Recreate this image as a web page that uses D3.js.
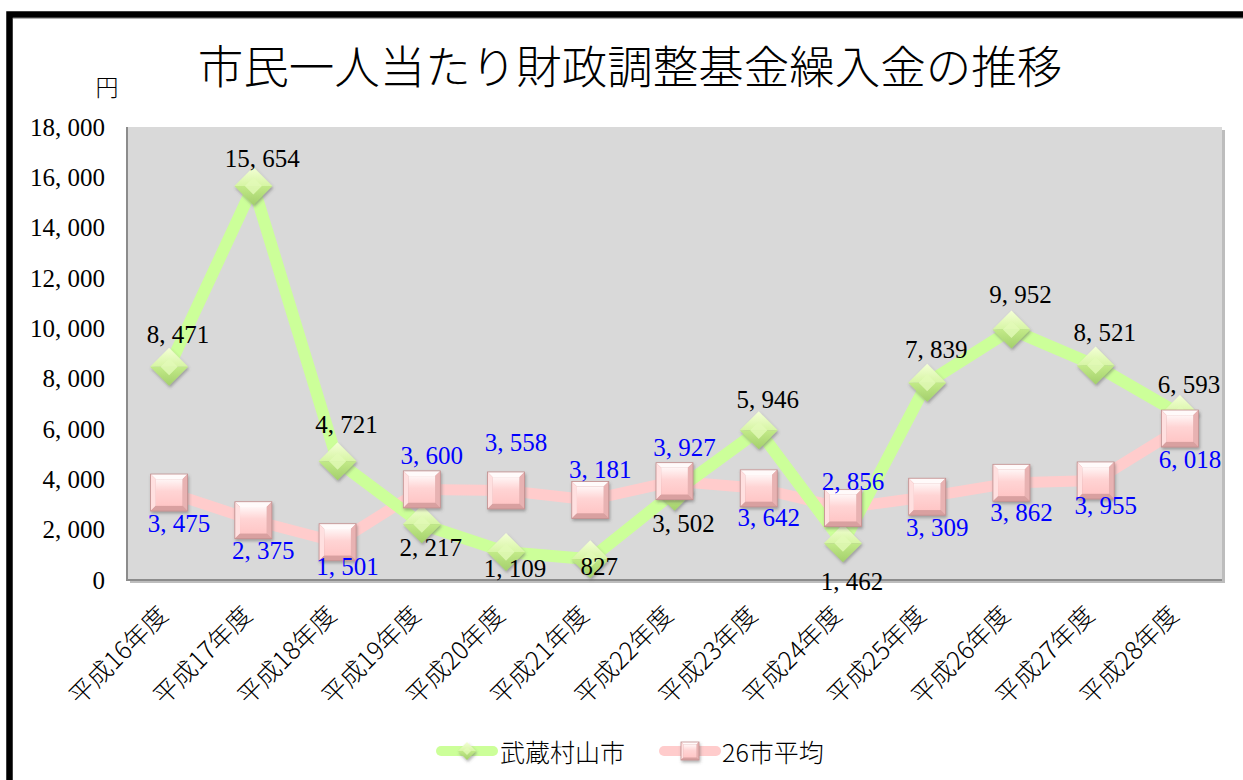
<!DOCTYPE html>
<html>
<head>
<meta charset="utf-8">
<title>市民一人当たり財政調整基金繰入金の推移</title>
<script src="https://cdn.jsdelivr.net/npm/d3@7/dist/d3.min.js"></script>
<style>
  body { margin: 0; background: #fff; }
  svg { display: block; }
</style>
</head>
<body>
<svg width="1243" height="780"></svg>
<script>
// data
const years = ["平成16年度","平成17年度","平成18年度","平成19年度","平成20年度","平成21年度","平成22年度",
               "平成23年度","平成24年度","平成25年度","平成26年度","平成27年度","平成28年度"];
const musashimurayama = [8471, 15654, 4721, 2217, 1109, 827, 3502, 5946, 1462, 7839, 9952, 8521, 6593];
const avg26 = [3475, 2375, 1501, 3600, 3558, 3181, 3927, 3642, 2856, 3309, 3862, 3955, 6018];
const yTicks = [0, 2000, 4000, 6000, 8000, 10000, 12000, 14000, 16000, 18000];
const seriesNames = ["武蔵村山市", "26市平均"];

// label offsets (px, from marker centre) - layout only
const greenDy = [-32, -28, -37, 23, 16, 7, 32, -31, 38, -33, -35, -33, -30];
const pinkDy  = [31, 30, 24, -34, -48, -30, -34, 29, -27, 31, 30, 25, 31];

const fmt = v => d3.format(",")(v).replace(",", ", ");
const serif = "'Liberation Serif', 'DejaVu Serif', serif";
const jp = "'Noto Sans CJK JP', sans-serif";

const svg = d3.select("svg");
const plot = {left: 127, right: 1222, top: 127, bottom: 580};

const x = d3.scalePoint().domain(years).range([plot.left, plot.right]).padding(0.5);
const y = d3.scaleLinear().domain([0, 18000]).range([plot.bottom, plot.top]);

const defs = svg.append("defs");
const sh = defs.append("filter").attr("id", "shadow").attr("x", "-50%").attr("y", "-50%").attr("width", "200%").attr("height", "200%");
sh.append("feDropShadow").attr("dx", 1).attr("dy", 2).attr("stdDeviation", 1.5)
  .attr("flood-color", "#555").attr("flood-opacity", 0.45);

function grad(id, stops, x2, y2) {
  const g = defs.append("linearGradient").attr("id", id)
    .attr("x1", 0).attr("y1", 0).attr("x2", x2).attr("y2", y2);
  stops.forEach(s => g.append("stop").attr("offset", s[0]).attr("stop-color", s[1]));
}
grad("dTop", [[0, "#f4ffd6"], [1, "#d6f5a4"]], 0, 1);
grad("dBot", [[0, "#c2ea88"], [1, "#a3cf6b"]], 0, 1);
grad("sFace", [[0, "#fff6f6"], [0.45, "#ffd4d4"], [1, "#ffc6c6"]], 0, 1);

// frame
svg.append("rect").attr("x", 9.5).attr("y", 14.5).attr("width", 1400).attr("height", 1000)
  .attr("fill", "none").attr("stroke", "#000").attr("stroke-width", 6.5);
svg.append("line").attr("x1", 13).attr("x2", 1243).attr("y1", 18.5).attr("y2", 18.5)
  .attr("stroke", "#b0b0b0").attr("stroke-width", 1);

// title
svg.append("text").attr("x", 630).attr("y", 64).attr("text-anchor", "middle")
  .attr("dominant-baseline", "central").attr("font-family", jp).attr("font-size", 45.5)
  .attr("font-weight", 300)
  .text("市民一人当たり財政調整基金繰入金の推移");

// unit
svg.append("text").attr("x", 107).attr("y", 86).attr("text-anchor", "middle")
  .attr("dominant-baseline", "central").attr("font-family", jp).attr("font-size", 23)
  .attr("font-weight", 300)
  .text("円");

// plot area
svg.append("rect").attr("x", plot.left + 3).attr("y", plot.top + 3)
  .attr("width", plot.right - plot.left).attr("height", plot.bottom - plot.top)
  .attr("fill", "#bdbdbd");
svg.append("rect").attr("x", plot.left).attr("y", plot.top)
  .attr("width", plot.right - plot.left).attr("height", plot.bottom - plot.top)
  .attr("fill", "#d9d9d9");
svg.append("path")
  .attr("d", `M${plot.left},${plot.top}V${plot.bottom}H${plot.right}`)
  .attr("fill", "none").attr("stroke", "#8c8c8c").attr("stroke-width", 2);

// y axis labels
const yAxis = svg.append("g").attr("transform", `translate(${plot.left},0)`)
  .call(d3.axisLeft(y).tickValues(yTicks).tickSize(0).tickPadding(22).tickFormat(fmt));
yAxis.select(".domain").remove();
yAxis.selectAll("text").attr("font-family", serif).attr("font-size", 25).attr("fill", "#000");

// x axis labels
const xAxis = svg.append("g").attr("transform", `translate(0,${plot.bottom})`)
  .call(d3.axisBottom(x).tickSize(0).tickPadding(0));
xAxis.select(".domain").remove();
xAxis.selectAll("text")
  .attr("font-family", jp).attr("font-size", 25).attr("font-weight", 300).attr("fill", "#000")
  .attr("text-anchor", "end").attr("dominant-baseline", "central")
  .attr("dy", null).attr("y", 0)
  .attr("transform", "translate(-8,29) rotate(-45)");

// lines
const line = d3.line().x((d, i) => x(years[i])).y(d => y(d));
svg.append("path").datum(avg26).attr("d", line).attr("fill", "none")
  .attr("stroke", "#ffcccc").attr("stroke-width", 11).attr("stroke-linejoin", "round");
svg.append("path").datum(musashimurayama).attr("d", line).attr("fill", "none")
  .attr("stroke", "#ccff99").attr("stroke-width", 12).attr("stroke-linejoin", "round");

function diamond(g, r) {
  g.attr("filter", "url(#shadow)");
  g.append("path").attr("d", `M${-r},0L0,${-r}L${r},0Z`).attr("fill", "url(#dTop)");
  g.append("path").attr("d", `M${-r},0L${r},0L0,${r}Z`).attr("fill", "url(#dBot)");
  const k = r * 0.45;
  g.append("path").attr("d", `M${-k},0L0,${-k}L${k},0L0,${k}Z`).attr("fill", "#e2fab8").attr("opacity", 0.8);
}
function square(g, r) {
  const b = r * 0.28;
  g.attr("filter", "url(#shadow)");
  g.append("rect").attr("x", -r).attr("y", -r).attr("width", 2 * r).attr("height", 2 * r).attr("fill", "#d9a3a3");
  g.append("path").attr("d", `M${-r},${-r}H${r}L${r - b},${-r + b}H${-r + b}Z`).attr("fill", "#fffafa");
  g.append("path").attr("d", `M${-r},${-r}L${-r + b},${-r + b}V${r - b}L${-r},${r}Z`).attr("fill", "#ffe0e0");
  g.append("path").attr("d", `M${r},${-r}L${r - b},${-r + b}V${r - b}L${r},${r}Z`).attr("fill", "#e8b2b2");
  g.append("path").attr("d", `M${-r},${r}L${-r + b},${r - b}H${r - b}L${r},${r}Z`).attr("fill", "#d9a0a0");
  g.append("rect").attr("x", -r + b).attr("y", -r + b).attr("width", 2 * (r - b)).attr("height", 2 * (r - b))
    .attr("fill", "url(#sFace)");
  g.append("rect").attr("x", -r).attr("y", -r).attr("width", 2 * r).attr("height", 2 * r)
    .attr("fill", "none").attr("stroke", "#c29090").attr("stroke-width", 0.8);
}

// markers
svg.append("g").selectAll("g").data(musashimurayama).join("g")
  .attr("transform", (d, i) => `translate(${x(years[i])},${y(d)})`)
  .each(function () { diamond(d3.select(this), 19); });
svg.append("g").selectAll("g").data(avg26).join("g")
  .attr("transform", (d, i) => `translate(${x(years[i])},${y(d)})`)
  .each(function () { square(d3.select(this), 18.5); });

// value labels
svg.append("g").selectAll("text").data(musashimurayama).join("text")
  .attr("x", (d, i) => x(years[i]) + 9).attr("y", (d, i) => y(d) + greenDy[i])
  .attr("text-anchor", "middle").attr("dominant-baseline", "central")
  .attr("font-family", serif).attr("font-size", 25).attr("fill", "#000")
  .text(fmt);
svg.append("g").selectAll("text").data(avg26).join("text")
  .attr("x", (d, i) => x(years[i]) + 10).attr("y", (d, i) => y(d) + pinkDy[i])
  .attr("text-anchor", "middle").attr("dominant-baseline", "central")
  .attr("font-family", serif).attr("font-size", 25).attr("fill", "#0000ff")
  .text(fmt);

// legend
const leg = svg.append("g").attr("transform", "translate(0,751)");
leg.append("line").attr("x1", 441).attr("x2", 493).attr("stroke", "#ccff99")
  .attr("stroke-width", 10).attr("stroke-linecap", "round");
diamond(leg.append("g").attr("transform", "translate(467,0)"), 9);
leg.append("text").attr("x", 500).attr("dominant-baseline", "central")
  .attr("font-family", jp).attr("font-size", 25).attr("font-weight", 300).text(seriesNames[0]);
leg.append("line").attr("x1", 664).attr("x2", 716).attr("stroke", "#ffcccc")
  .attr("stroke-width", 10).attr("stroke-linecap", "round");
square(leg.append("g").attr("transform", "translate(690,0)"), 9);
leg.append("text").attr("x", 722).attr("dominant-baseline", "central")
  .attr("font-family", jp).attr("font-size", 25).attr("font-weight", 300).text(seriesNames[1]);
</script>
</body>
</html>
